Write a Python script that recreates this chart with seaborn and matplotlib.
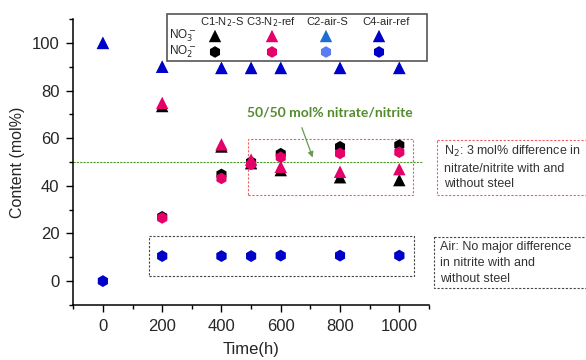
import pandas as pd
import matplotlib.pyplot as plt
import seaborn as sns
from matplotlib.ticker import MultipleLocator
from matplotlib.patches import Rectangle

# data
time_air = [0, 200, 400, 500, 600, 800, 1000]
time_n2 = [200, 400, 500, 600, 800, 1000]

c1_no3 = [73.5, 56.5, 49.5, 46.6, 43.6, 42.4]
c1_no2 = [27.0, 44.8, 50.0, 53.5, 56.4, 57.1]
c3_no3 = [74.8, 57.4, 51.0, 48.0, 45.9, 47.0]
c3_no2 = [26.5, 43.1, 49.0, 52.0, 53.6, 54.1]
c2_no3 = [100, 90.0, 89.5, 89.5, 89.5, 89.5, 89.5]
c2_no2 = [0, 10.5, 10.5, 10.5, 10.7, 10.7, 10.7]
c4_no3 = [100, 90.0, 89.5, 89.5, 89.5, 89.5, 89.5]
c4_no2 = [0, 10.5, 10.5, 10.5, 10.7, 10.7, 10.7]

names = ["C1-N$_2$-S", "C3-N$_2$-ref", "C2-air-S", "C4-air-ref"]
colors = ["black", "#E5006A", "#1C6ED6", "#0000C8"]
hex_colors = ["black", "#E5006A", "#5A7CF2", "#0000C8"]

sns.set_style("ticks")
plt.rcParams['font.family'] = ['Liberation Sans', 'DejaVu Sans']

fig = plt.figure(figsize=(5.86, 3.6), dpi=100)
ax = fig.add_axes([0.125, 0.153, 0.607, 0.794])

series = [
    (time_n2, c1_no3, c1_no2, 0),
    (time_n2, c3_no3, c3_no2, 1),
    (time_air, c2_no3, c2_no2, 2),
    (time_air, c4_no3, c4_no2, 3),
]
for t, no3, no2, i in series:
    df = pd.DataFrame({"t": t, "no3": no3, "no2": no2})
    sns.scatterplot(x="t", y="no3", data=df, marker="^", s=80, color=colors[i],
                    edgecolor="none", ax=ax, zorder=3)
    sns.scatterplot(x="t", y="no2", data=df, marker="h", s=70, color=hex_colors[i],
                    edgecolor="none", ax=ax, zorder=3)

ax.set_xlim(-100, 1100)
ax.set_ylim(-10, 110)
ax.xaxis.set_major_locator(MultipleLocator(200))
ax.xaxis.set_minor_locator(MultipleLocator(100))
ax.yaxis.set_minor_locator(MultipleLocator(10))
ax.set_yticks([0, 20, 40, 60, 80, 100])
ax.tick_params(which="major", length=5, width=1, labelsize=12, color="black", pad=5)
ax.tick_params(which="minor", length=3, width=1, color="black")
for s in ["top", "right"]:
    ax.spines[s].set_visible(False)
for s in ["left", "bottom"]:
    ax.spines[s].set_color("black")
    ax.spines[s].set_linewidth(1.1)
ax.set_xlabel("Time(h)", fontsize=12, labelpad=6)
ax.set_ylabel("Content (mol%)", fontsize=11.5, labelpad=5)

# 50/50 line and boxes
ax.hlines(50, -100, 1080, colors="#4E9A2A", linestyles=(0, (2, 1)), linewidth=0.8, zorder=1)
ax.add_patch(Rectangle((490, 36.1), 555, 23.4, fill=False, ec="#F06060",
                       ls=(0, (2, 1.5)), lw=0.8, zorder=2))
ax.add_patch(Rectangle((154, 2.1), 897, 16.8, fill=False, ec="#444444",
                       ls=(0, (2, 1.5)), lw=0.8, zorder=2))
ax.annotate("", xy=(711, 50.8), xytext=(668, 65.5),
            arrowprops=dict(arrowstyle="-|>", color="#6A9A50", lw=0.9, mutation_scale=8))
ax.text(765, 70.8, "50/50 mol% nitrate/nitrite", color="#558B2F", fontsize=10,
        fontweight="bold", family=["Lato", "DejaVu Sans"], ha="center", va="center")

# overlay in pixel units for legend table and side notes
lay = fig.add_axes([0, 0, 1, 1])
lay.set_xlim(0, 586)
lay.set_ylim(360, 0)
lay.axis("off")

lay.add_patch(Rectangle((167, 14), 260, 47, fill=False, ec="#555555", lw=1.2))
head_x = [222, 271, 327, 386]
mark_x = [215, 272, 326, 379]
for i, n in enumerate(names):
    lay.text(head_x[i], 22, n, fontsize=8, ha="center", va="center")
    lay.scatter([mark_x[i]], [36], marker="^", s=80, color=colors[i], edgecolors="none")
    lay.scatter([mark_x[i]], [52], marker="h", s=70, color=hex_colors[i], edgecolors="none")
lay.text(169, 36, "NO$_3^-$", fontsize=8.5, ha="left", va="center")
lay.text(169, 52, "NO$_2^-$", fontsize=8.5, ha="left", va="center")

lay.add_patch(Rectangle((437, 140), 160, 55, fill=False, ec="#F06060",
                        ls=(0, (2, 1.5)), lw=0.8))
lay.text(444, 167, "N$_2$: 3 mol% difference in\nnitrate/nitrite with and\nwithout steel",
         fontsize=9, color="#333333", ha="left", va="center", linespacing=1.4)
lay.add_patch(Rectangle((434, 237), 160, 51, fill=False, ec="#444444",
                        ls=(0, (2, 1.5)), lw=0.8))
lay.text(440, 263, "Air: No major difference\nin nitrite with and\nwithout steel",
         fontsize=9, color="#333333", ha="left", va="center", linespacing=1.4)

fig.savefig("out.png", dpi=100)
